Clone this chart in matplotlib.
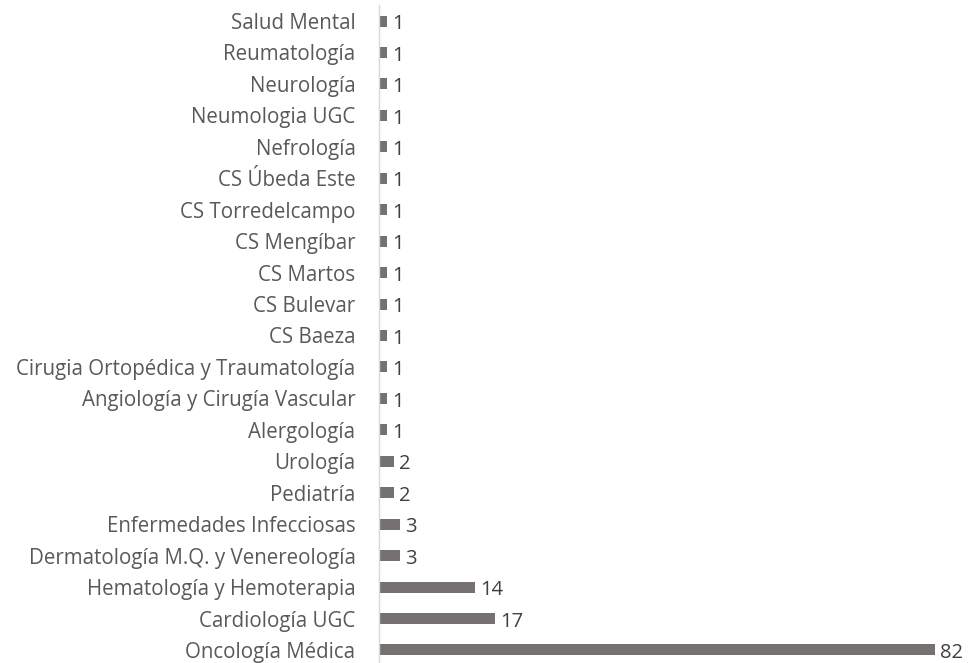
import matplotlib
matplotlib.use("Agg")
import matplotlib.pyplot as plt

categories = ["Oncología Médica", "Cardiología UGC", "Hematología y Hemoterapia",
              "Dermatología M.Q. y Venereología", "Enfermedades Infecciosas", "Pediatría",
              "Urología", "Alergología", "Angiología y Cirugía Vascular",
              "Cirugia Ortopédica y Traumatología", "CS Baeza", "CS Bulevar", "CS Martos",
              "CS Mengíbar", "CS Torredelcampo", "CS Úbeda Este", "Nefrología",
              "Neumologia UGC", "Neurología", "Reumatología", "Salud Mental"]
values = [82, 17, 14, 3, 3, 2, 2, 1, 1, 1, 1, 1, 1, 1, 1, 1, 1, 1, 1, 1, 1]

plt.rcParams['font.family'] = ['Open Sans', 'DejaVu Sans']

W, H = 970, 663
fig = plt.figure(figsize=(W/100, H/100), dpi=100)
x0, x1 = 379, 968
ytop, ybot = 5.3, 663
ax = fig.add_axes([x0/W, 1 - ybot/H, (x1-x0)/W, (ybot-ytop)/H])

pxu = (935 - 380) / 82
ax.set_xlim(0, (x1 - x0) / pxu)
spacing = (650 - 21) / 20
ax.set_ylim(-0.5 + (665.7 - ybot) / spacing, 20.5)

pos = list(range(len(categories)))
ax.barh(pos, values, height=0.35, color="#767171", left=0.15)
for p, v in zip(pos, values):
    ax.text(v + 0.15 + 5/pxu, p - 0.1, str(v), va="center", ha="left", fontsize=14.5, color="#404040")

ax.set_yticks(pos)
ax.set_yticklabels(categories, fontsize=14.8, color="#595959")
ax.tick_params(axis="y", length=0, pad=17)
ax.set_xticks([])
for s in ["top", "right", "bottom"]:
    ax.spines[s].set_visible(False)
ax.spines["left"].set_color("#d9d9d9")
ax.spines["left"].set_linewidth(1)

fig.savefig("out.png", dpi=100)
